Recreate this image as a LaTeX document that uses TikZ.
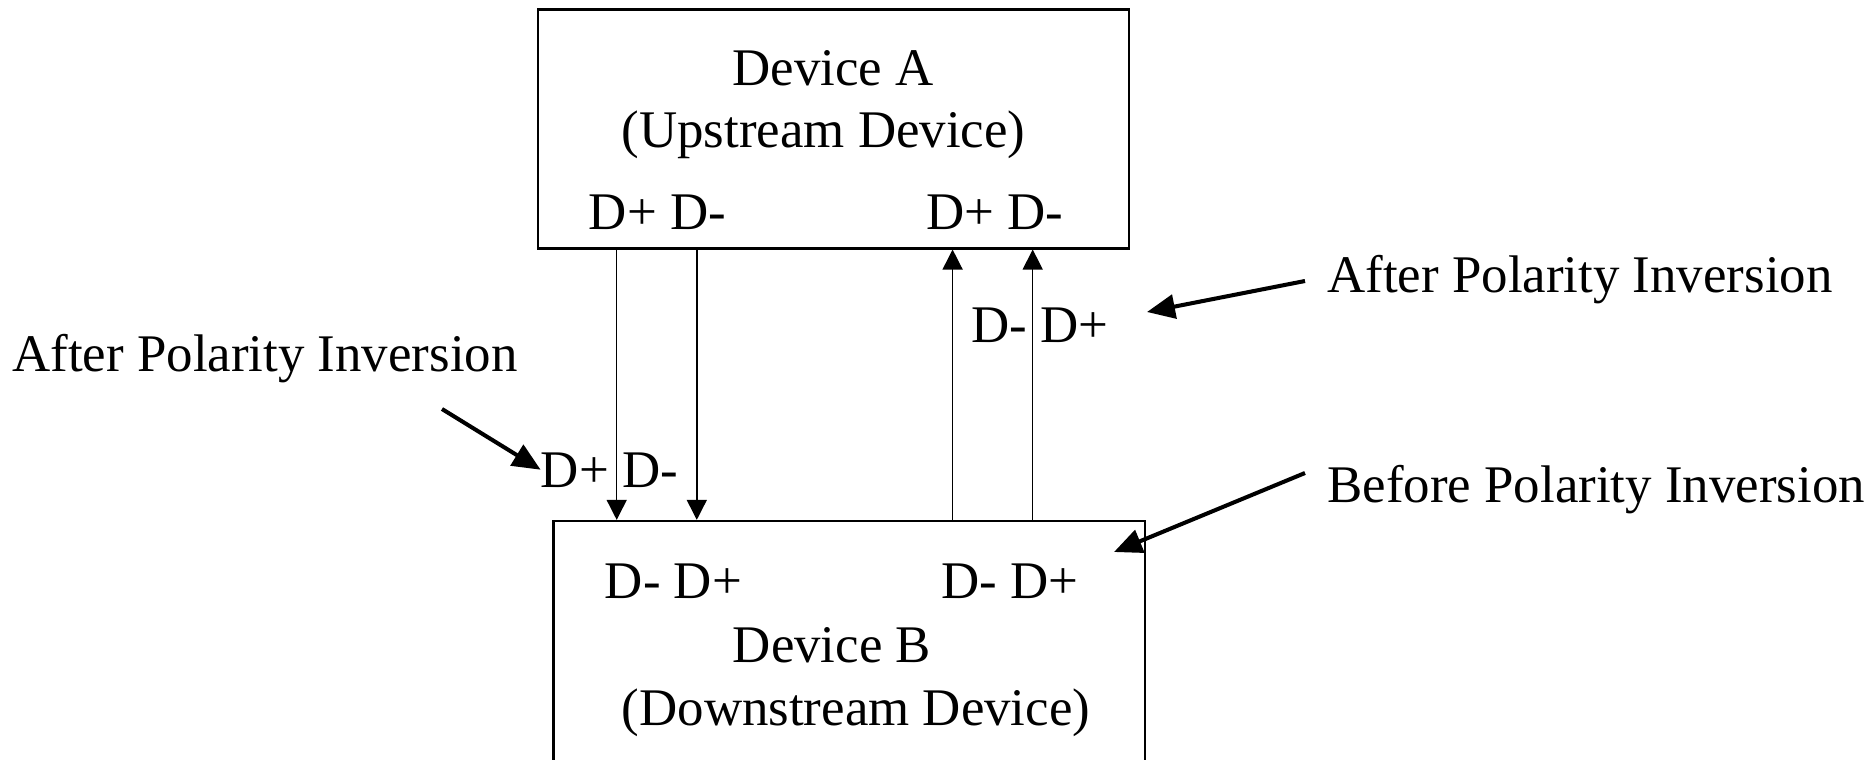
\documentclass[tikz,border=0pt]{standalone}
\usepackage{fontspec}
\setmainfont{Liberation Serif}
\usetikzlibrary{arrows.meta}

\tikzset{
  device/.style={draw, line width=1.2pt, minimum width=11.83cm, inner sep=0pt},
  pin/.style={inner sep=0pt, anchor=base},
  note/.style={inner sep=0pt, anchor=base west},
  wire/.style={line width=0.8pt, -{Triangle[length=0.4cm,width=0.4cm]}},
  pointer/.style={line width=2.3pt, -{Triangle[length=0.56cm,width=0.48cm]}},
}

\begin{document}
\begin{tikzpicture}[x=0.02cm,y=-0.02cm,font=\fontsize{30.1}{36}\selectfont]
  \useasboundingbox (0,0) rectangle (1874,760);
  \clip (0,0) rectangle (1874,760);

  % upstream and downstream boxes
  \node[device,minimum height=4.78cm] (devA) at (833.7,129) {};
  \node[device,minimum height=5.38cm] (devB) at (849.2,655.4) {};

  \node[pin] (nameA) at (833,86) {Device A};
  \node[pin] (roleA) at (823.5,148) {(Upstream Device)};
  \node[pin] (pinsA1) at (657.5,230) {D+ D-};
  \node[pin] (pinsA2) at (995,230) {D+ D-};

  \node[pin] (pinsB1) at (673.5,598) {D- D+};
  \node[pin] (pinsB2) at (1010,598) {D- D+};
  \node[pin] (nameB) at (832,662) {Device B};
  \node[pin] (roleB) at (856,725) {(Downstream Device)};

  % the four data lines
  \coordinate (w1) at (616.7,0);
  \coordinate (w2) at (696.8,0);
  \coordinate (w3) at (952.6,0);
  \coordinate (w4) at (1032.7,0);
  \draw[wire] (devA.south -| w1) -- (devB.north -| w1);
  \draw[wire] (devA.south -| w2) -- (devB.north -| w2);
  \draw[wire] (devB.north -| w3) -- (devA.south -| w3);
  \draw[wire] (devB.north -| w4) -- (devA.south -| w4);

  \node[pin] (swapDown) at (609.5,487) {D+ D-};
  \node[pin] (swapUp) at (1040,342) {D- D+};

  % remarks
  \node[note] (afterL) at (12,372) {After Polarity Inversion};
  \node[note] (afterR) at (1327,293) {After Polarity Inversion};
  \node[note] (before) at (1327,502) {Before Polarity Inversion};

  \coordinate (tailL) at (442,409);
  \coordinate (tailR) at (1305,281);
  \coordinate (tipR) at (1147,312);
  \coordinate (tailB) at (1305,473);
  \coordinate (tipB) at (1114,552);
  \draw[pointer] (tailL) -- (swapDown.west);
  \draw[pointer] (tailR) -- (tipR);
  \draw[pointer] (tailB) -- (tipB);
\end{tikzpicture}
\end{document}
